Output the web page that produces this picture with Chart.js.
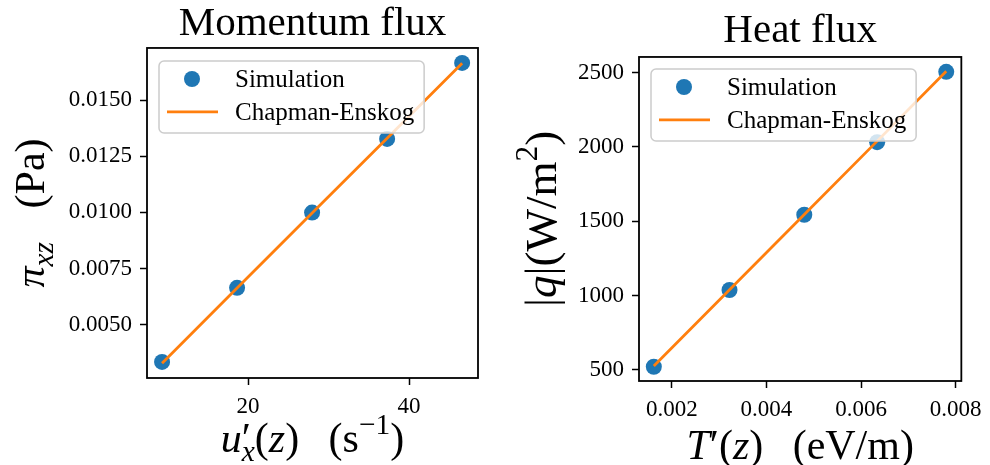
<!DOCTYPE html>
<html>
<head>
<meta charset="utf-8">
<script src="https://cdn.jsdelivr.net/npm/chart.js@4.4.1/dist/chart.umd.min.js"></script>
<style>
  body { margin: 0; background: #fff; }
  canvas { position: absolute; top: 0; }
</style>
</head>
<body>
<canvas id="momChart" width="495" height="465" style="left:0"></canvas>
<canvas id="heatChart" width="495" height="465" style="left:495px"></canvas>
<script>
const SERIF = '"Liberation Serif", "DejaVu Serif", serif';
const BLUE = '#1f77b4', ORANGE = '#ff7f0e';

// momentum flux: shear stress vs velocity gradient
const momGrad = [9.32, 18.64, 27.96, 37.28, 46.60];
const momSim = [0.00334, 0.00664, 0.00999, 0.01327, 0.01665];
const momCE = [0.00328, 0.00663, 0.00997, 0.01330, 0.01664];
const momXTicks = [20, 40];
const momXLabels = ['20', '40'];
const momYTicks = [0.0050, 0.0075, 0.0100, 0.0125, 0.0150];
const momYLabels = ['0.0050', '0.0075', '0.0100', '0.0125', '0.0150'];

// heat flux vs temperature gradient
const heatGrad = [0.00162, 0.00322, 0.00480, 0.00634, 0.00780];
const heatSim = [522, 1038, 1544, 2032, 2505];
const heatCE = [527, 1040, 1546, 2039, 2509];
const heatXTicks = [0.002, 0.004, 0.006, 0.008];
const heatXLabels = ['0.002', '0.004', '0.006', '0.008'];
const heatYTicks = [500, 1000, 1500, 2000, 2500];
const heatYLabels = ['500', '1000', '1500', '2000', '2500'];

const seriesNames = ['Simulation', 'Chapman-Enskog'];

// axis titles as little runs of math text (it = italic, sub/sup = script size)
const momXTitle = [{t: 'u', it: 1}, {t: '′', hold: 1}, {t: 'x', it: 1, sub: 1}, {t: '('}, {t: 'z', it: 1}, {t: ')'},
  {t: '(', gap: 0.7}, {t: 's'}, {t: '−1', sup: 1}, {t: ')'}];
const momYTitle = [{t: 'π', it: 1}, {t: 'xz', it: 1, sub: 1}, {t: '(', gap: 0.8}, {t: 'Pa'}, {t: ')'}];
const heatXTitle = [{t: 'T', it: 1}, {t: '′'}, {t: '('}, {t: 'z', it: 1}, {t: ')'},
  {t: '(', gap: 0.7}, {t: 'eV/m'}, {t: ')'}];
const heatYTitle = [{t: '|'}, {t: 'q', it: 1}, {t: '|'}, {t: '(W/m'}, {t: '2', sup: 1}, {t: ')'}];

function segFont(s, size) {
  const px = size * (s.sub || s.sup ? 0.7 : 1);
  return (s.it ? 'italic ' : '') + px + 'px ' + SERIF;
}

function drawMath(ctx, segs, cx, base, size) {
  let total = 0;
  segs.forEach(s => {
    ctx.font = segFont(s, size);
    total += (s.gap || 0) * size + (s.hold ? 0 : ctx.measureText(s.t).width);
  });
  let x = cx - total / 2;
  ctx.textBaseline = 'alphabetic';
  ctx.textAlign = 'left';
  segs.forEach(s => {
    ctx.font = segFont(s, size);
    x += (s.gap || 0) * size;
    const dy = s.sub ? 0.22 * size : s.sup ? -0.42 * size : 0;
    ctx.fillText(s.t, x, base + dy);
    if (!s.hold) x += ctx.measureText(s.t).width;
  });
}

const panelDecor = {
  id: 'panelDecor',
  afterLayout(chart) {
    // centre the title over the axes box, not over the whole canvas
    const a = chart.chartArea, tb = chart.titleBlock;
    if (tb) {
      tb.left = a.left;
      tb.right = a.right;
      tb.width = a.right - a.left;
    }
  },
  afterDraw(chart, args, o) {
    const ctx = chart.ctx, a = chart.chartArea;
    ctx.save();
    ctx.strokeStyle = '#000';
    ctx.lineWidth = 1.8;
    ctx.strokeRect(a.left, a.top, a.right - a.left, a.bottom - a.top);

    // legend box, drawn over the data like matplotlib's framealpha=0.8
    const ds = chart.data.datasets;
    ctx.font = '25px ' + SERIF;
    const textW = Math.max(...ds.map(d => ctx.measureText(d.label).width));
    const bx = a.left + o.legendDx, by = a.top + o.legendDy;
    const bw = 76 + textW + 10, bh = 72;
    ctx.beginPath();
    ctx.roundRect(bx, by, bw, bh, 5);
    ctx.fillStyle = 'rgba(255,255,255,0.8)';
    ctx.fill();
    ctx.strokeStyle = '#cccccc';
    ctx.lineWidth = 1.5;
    ctx.stroke();
    ds.forEach((d, i) => {
      const ry = by + 18 + i * 33;
      if (d.showLine) {
        ctx.strokeStyle = d.borderColor;
        ctx.lineWidth = d.borderWidth;
        ctx.beginPath();
        ctx.moveTo(bx + 8, ry);
        ctx.lineTo(bx + 59, ry);
        ctx.stroke();
      } else {
        ctx.fillStyle = d.backgroundColor;
        ctx.beginPath();
        ctx.arc(bx + 33, ry, d.pointRadius, 0, Math.PI * 2);
        ctx.fill();
      }
      ctx.fillStyle = '#000';
      ctx.textBaseline = 'alphabetic';
      ctx.fillText(d.label, bx + 76, ry + 8);
    });

    // axis titles
    ctx.fillStyle = '#000';
    drawMath(ctx, o.xTitle, (a.left + a.right) / 2, o.xBase, 42);
    ctx.translate(o.yBase, (a.top + a.bottom) / 2);
    ctx.rotate(-Math.PI / 2);
    drawMath(ctx, o.yTitle, 0, 0, o.ySize || 42);
    ctx.restore();
  }
};

function axis(min, max, ticks, labels, fit) {
  return {
    type: 'linear',
    min: min,
    max: max,
    afterBuildTicks: s => { s.ticks = ticks.map(v => ({value: v})); },
    afterFit: fit,
    grid: { display: true, drawOnChartArea: false, drawTicks: true, tickLength: 7, tickWidth: 1.5, tickColor: '#000' },
    border: { display: false },
    ticks: {
      autoSkip: false,
      maxRotation: 0,
      padding: 8,
      color: '#000',
      font: { family: SERIF, size: 23 },
      callback: (v, i) => labels[i]
    }
  };
}

function pts(xs, ys) {
  return xs.map((x, i) => ({x: x, y: ys[i]}));
}

function makePanel(id, p) {
  return new Chart(document.getElementById(id), {
    type: 'scatter',
    data: {
      datasets: [
        { label: seriesNames[0], data: pts(p.x, p.sim), backgroundColor: BLUE, borderWidth: 0,
          pointRadius: 8, pointHoverRadius: 8, order: 1 },
        { label: seriesNames[1], data: pts(p.x, p.ce), showLine: true, borderColor: ORANGE,
          borderWidth: 2.8, pointRadius: 0, order: 0 }
      ]
    },
    options: {
      responsive: false,
      animation: false,
      events: [],
      layout: { padding: { left: 0, top: 0, right: p.padRight, bottom: 0 } },
      plugins: {
        legend: { display: false },
        tooltip: { enabled: false },
        title: {
          display: true, text: p.title, color: '#000',
          font: { family: SERIF, size: 41, weight: 'normal', lineHeight: 1.17 },
          padding: p.titlePad
        },
        panelDecor: p.decor
      },
      scales: {
        x: axis(p.xMin, p.xMax, p.xTicks, p.xLabels, s => { s.height = p.xAxisH; }),
        y: axis(p.yMin, p.yMax, p.yTicks, p.yLabels, s => { s.width = p.yAxisW; })
      }
    },
    plugins: [panelDecor]
  });
}

makePanel('momChart', {
  title: 'Momentum flux', x: momGrad, sim: momSim, ce: momCE,
  xMin: 7.45, xMax: 48.57, yMin: 0.002625, yMax: 0.017317,
  xTicks: momXTicks, xLabels: momXLabels, yTicks: momYTicks, yLabels: momYLabels,
  padRight: 17, xAxisH: 87, yAxisW: 147, titlePad: {top: 0, bottom: 0},
  decor: { legendDx: 12, legendDy: 13, xTitle: momXTitle, yTitle: momYTitle, xBase: 452, yBase: 44 }
});

makePanel('heatChart', {
  title: 'Heat flux', x: heatGrad, sim: heatSim, ce: heatCE,
  xMin: 0.001307, xMax: 0.008119, yMin: 426, yMax: 2605,
  xTicks: heatXTicks, xLabels: heatXLabels, yTicks: heatYTicks, yLabels: heatYLabels,
  padRight: 24, xAxisH: 84, yAxisW: 144, titlePad: {top: 7, bottom: 2},
  decor: { legendDx: 12, legendDy: 12, xTitle: heatXTitle, yTitle: heatYTitle, xBase: 459, yBase: 61, ySize: 45 }
});
</script>
</body>
</html>
